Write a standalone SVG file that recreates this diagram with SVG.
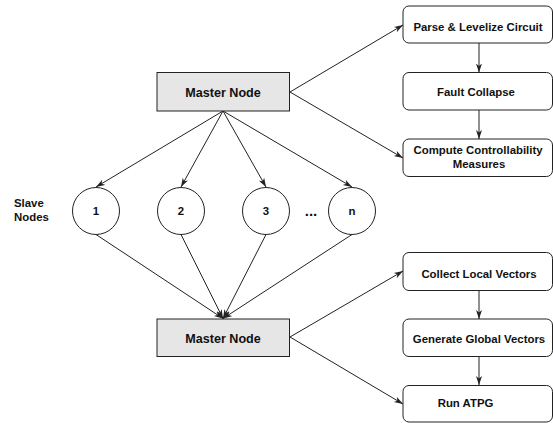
<svg xmlns="http://www.w3.org/2000/svg" width="553" height="423" viewBox="0 0 553 423">
<style>
text{font-family:"Liberation Sans",Arial,sans-serif;font-weight:bold;fill:#111;text-anchor:middle}
.t{font-size:11.4px}
.m{font-size:12.6px}
.box{fill:#fff;stroke:#222;stroke-width:1}
.master{fill:#e6e6e6;stroke:#222;stroke-width:1}
.c{fill:#fff;stroke:#222;stroke-width:1}
.e{fill:none;stroke:#222;stroke-width:1;marker-end:url(#ah)}
</style>
<defs>
<marker id="ah" markerUnits="userSpaceOnUse" markerWidth="10" markerHeight="8" refX="9" refY="3.5" orient="auto">
<path d="M0,0.5 L9,3.5 L0,6.5 L2.5,3.5 z" fill="#222"/>
</marker>
</defs>
<rect width="553" height="423" fill="#fff"/>
<g id="connectors">
<path class="e" d="M290,92 L403,25"/>
<path class="e" d="M290,92 L403,158"/>
<path class="e" d="M290,337 L403,271"/>
<path class="e" d="M290,337 L403,404"/>
<path class="e" d="M479,43 L479,72.5"/>
<path class="e" d="M479,110 L479,139"/>
<path class="e" d="M479,291 L479,319"/>
<path class="e" d="M479,357 L479,385"/>
<path class="e" d="M223,111 L96,187"/>
<path class="e" d="M223,111 L181,187"/>
<path class="e" d="M223,111 L266,187"/>
<path class="e" d="M223,111 L352,187"/>
<path class="e" d="M96,234.5 L223,318.5"/>
<path class="e" d="M181,234.5 L223,318.5"/>
<path class="e" d="M266,234.5 L223,318.5"/>
<path class="e" d="M352,234.5 L223,318.5"/>
</g>
<g id="master-top">
<rect class="master" x="157" y="72.5" width="132.5" height="38.5"/>
<text class="m" x="223" y="96.5">Master Node</text>
</g>
<g id="master-bottom">
<rect class="master" x="157" y="319" width="132.5" height="37.5"/>
<text class="m" x="223" y="342.5">Master Node</text>
</g>
<g id="parse">
<rect class="box" x="403" y="6" width="149.5" height="37" rx="6"/>
<text class="t" x="478" y="30.5">Parse &amp; Levelize Circuit</text>
</g>
<g id="fault">
<rect class="box" x="403" y="72.5" width="149.5" height="37.5" rx="6"/>
<text class="t" x="476" y="95.5">Fault Collapse</text>
</g>
<g id="compute">
<rect class="box" x="403" y="139" width="149.5" height="37.5" rx="6"/>
<text class="t" x="478" y="153.5">Compute Controllability</text>
<text class="t" x="479" y="167.5">Measures</text>
</g>
<g id="collect">
<rect class="box" x="403" y="252.5" width="149.5" height="38" rx="6"/>
<text class="t" x="479" y="277.5">Collect Local Vectors</text>
</g>
<g id="generate">
<rect class="box" x="403" y="319" width="149.5" height="37.5" rx="6"/>
<text class="t" x="479" y="343">Generate Global Vectors</text>
</g>
<g id="atpg">
<rect class="box" x="403" y="385.5" width="149.5" height="36.5" rx="6"/>
<text class="t" x="465.5" y="406.5">Run ATPG</text>
</g>
<g id="slave-label">
<text class="t" x="14" y="207" style="text-anchor:start">Slave</text>
<text class="t" x="14" y="221" style="text-anchor:start">Nodes</text>
</g>
<g id="slave-1">
<circle class="c" cx="96" cy="211" r="23.5"/>
<text class="t" x="96" y="215">1</text>
</g>
<g id="slave-2">
<circle class="c" cx="181" cy="211" r="23.5"/>
<text class="t" x="181" y="215">2</text>
</g>
<g id="slave-3">
<circle class="c" cx="266" cy="211" r="23.5"/>
<text class="t" x="266" y="215">3</text>
</g>
<g id="dots">
<text x="311" y="216" style="font-size:15px">...</text>
</g>
<g id="slave-n">
<circle class="c" cx="352" cy="211" r="23.5"/>
<text class="t" x="352" y="215">n</text>
</g>
</svg>
